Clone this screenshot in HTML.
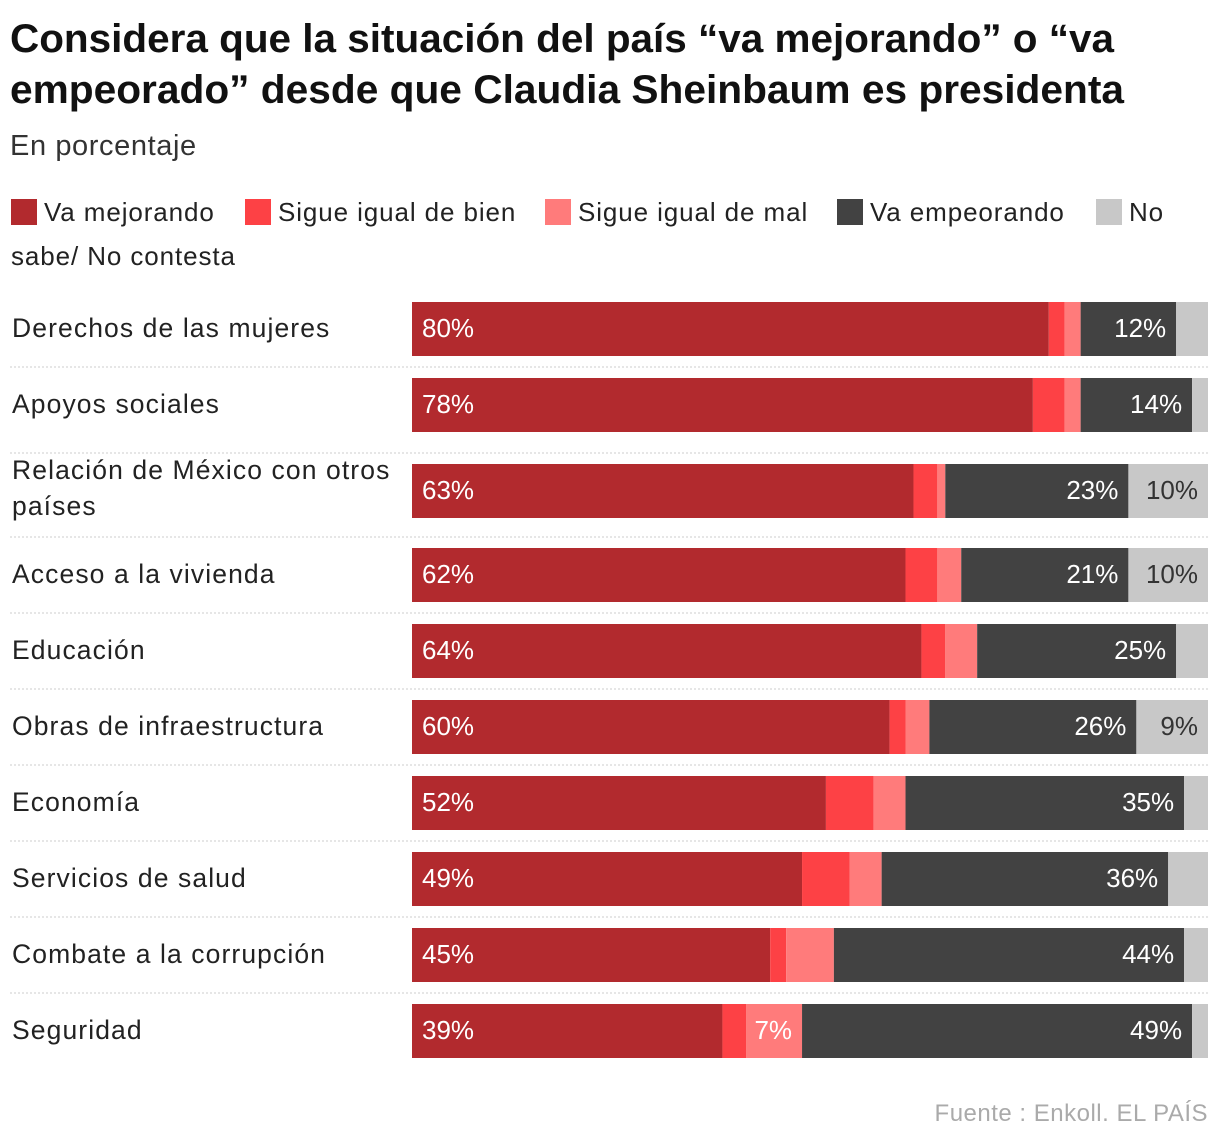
<!DOCTYPE html>
<html><head><meta charset="utf-8"><style>
body{margin:0;background:#fff;font-family:"Liberation Sans",sans-serif;}
</style></head><body>
<svg id="chart" width="1220" height="1142" xmlns="http://www.w3.org/2000/svg" font-family="Liberation Sans, sans-serif">
<text x="10" y="52" font-size="40" font-weight="bold" fill="#111" textLength="1104" lengthAdjust="spacingAndGlyphs">Considera que la situación del país “va mejorando” o “va</text>
<text x="10" y="103" font-size="40" font-weight="bold" fill="#111" textLength="1114" lengthAdjust="spacingAndGlyphs">empeorado” desde que Claudia Sheinbaum es presidenta</text>
<text x="10" y="155" font-size="29" fill="#333" letter-spacing="0.6">En porcentaje</text>
<g font-size="26" fill="#222" letter-spacing="0.9">
<rect x="11" y="199" width="26" height="26" fill="#b22a2e"/><text x="44" y="221">Va mejorando</text>
<rect x="245" y="199" width="26" height="26" fill="#fd4145"/><text x="278" y="221">Sigue igual de bien</text>
<rect x="545" y="199" width="26" height="26" fill="#ff7b7b"/><text x="578" y="221">Sigue igual de mal</text>
<rect x="837" y="199" width="26" height="26" fill="#424242"/><text x="870" y="221">Va empeorando</text>
<rect x="1096" y="199" width="26" height="26" fill="#c8c8c8"/><text x="1129" y="221">No</text>
<text x="11" y="265">sabe/ No contesta</text>
</g>
<g id="rows"></g>
<text x="1208" y="1121" font-size="24" fill="#aaa" text-anchor="end" letter-spacing="0.5">Fuente : Enkoll. EL PAÍS</text>
</svg>
<script>
const categories=[["Derechos de las mujeres"],["Apoyos sociales"],["Relación de México con otros","países"],["Acceso a la vivienda"],["Educación"],["Obras de infraestructura"],["Economía"],["Servicios de salud"],["Combate a la corrupción"],["Seguridad"]];
const mejorando=[80,78,63,62,64,60,52,49,45,39];
const igualBien=[2,4,3,4,3,2,6,6,2,3];
const igualMal=[2,2,1,3,4,3,4,4,6,7];
const empeorando=[12,14,23,21,25,26,35,36,44,49];
const noSabe=[4,2,10,10,4,9,3,5,3,2];
const seriesNames=["va-mejorando","igual-bien","igual-mal","va-empeorando","no-sabe"];
const colors=["#b22a2e","#fd4145","#ff7b7b","#424242","#c8c8c8"];
const x0=412,W=796;
const xs=v=>x0+v/100*W;
const g=document.getElementById('rows');
const NS="http://www.w3.org/2000/svg";
function mk(t,a){const e=document.createElementNS(NS,t);for(const k in a)e.setAttribute(k,a[k]);return e;}
categories.forEach((cat,i)=>{
  const y=302+i*76+(i==2?10:i>=3?18:0);
  const vals=[mejorando[i],igualBien[i],igualMal[i],empeorando[i],noSabe[i]];
  const lab=mk('text',{x:12,y:cat.length>1?y+15:y+35,'font-size':26.5,fill:'#222','letter-spacing':1.1});
  
  
  cat.forEach((l,j)=>{const ts=mk('tspan',{x:12,dy:j?36:0});ts.textContent=l;lab.appendChild(ts);});
  g.appendChild(lab);
  let c=0;
  vals.forEach((v,s)=>{
    const r=mk('rect',{x:xs(c),y:y,width:xs(c+v)-xs(c),height:54,fill:colors[s]});
    
    
    g.appendChild(r);
    if(v>=7){
      const left=s==0;
      const t=mk('text',{x:left?xs(c)+10:xs(c+v)-10,y:y+35,'font-size':26,'text-anchor':left?'start':'end',fill:s==4?'#333':'#fff'});
      
      
      t.textContent=v+'%';
      g.appendChild(t);
    }
    c+=v;
  });
  if(i<categories.length-1){
    const ny=302+(i+1)*76+(i+1==2?10:i+1>=3?18:0);
    const sep=mk('line',{x1:10,x2:1208,y1:ny-11,y2:ny-11,stroke:'#ccc','stroke-dasharray':'2,2'});
    
    
    g.appendChild(sep);
  }
});
</script>
</body></html>
